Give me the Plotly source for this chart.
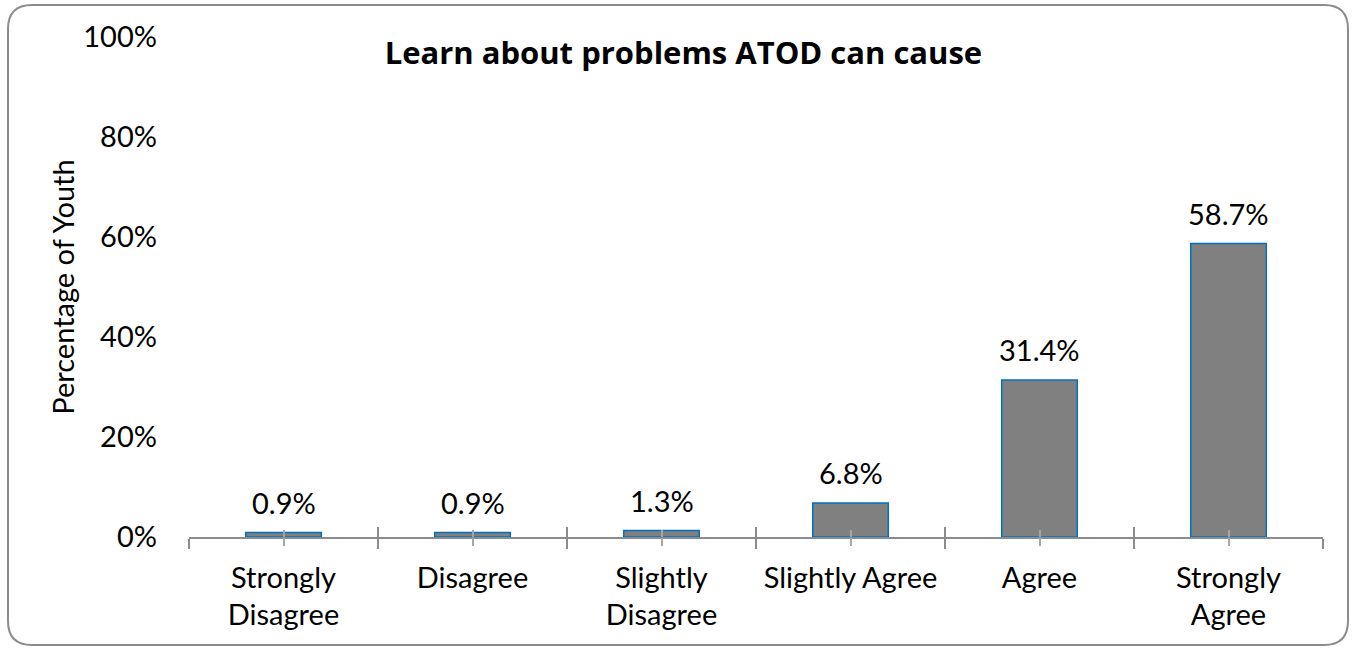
import plotly.graph_objects as go

CATEGORIES = ["Strongly<br>Disagree", "Disagree", "Slightly<br>Disagree",
              "Slightly Agree", "Agree", "Strongly<br>Agree"]
VALUES = [0.009, 0.009, 0.013, 0.068, 0.314, 0.587]
Y_TICKS = [0, 0.2, 0.4, 0.6, 0.8, 1.0]
Y_TICK_LABELS = ["0%", "20%", "40%", "60%", "80%", "100%"]

W, H = 1356, 650
L, R, T, B = 189, 33, 37, 113
FONT = "Lato, Carlito, Calibri, sans-serif"
FS = 29
AXIS_GRAY = "#8c8c8c"


def px_to_paper(x, y):
    return (x - L) / (W - L - R), (H - B - y) / (H - T - B)


def rounded_box(x0, y0, x1, y1, r):
    pts = [
        ("M", x0 + r, y0), ("L", x1 - r, y0), ("Q", x1, y0, x1, y0 + r),
        ("L", x1, y1 - r), ("Q", x1, y1, x1 - r, y1), ("L", x0 + r, y1),
        ("Q", x0, y1, x0, y1 - r), ("L", x0, y0 + r), ("Q", x0, y0, x0 + r, y0),
    ]
    parts = []
    for p in pts:
        cmd, coords = p[0], p[1:]
        xy = []
        for i in range(0, len(coords), 2):
            px, py = px_to_paper(coords[i], coords[i + 1])
            xy.append(f"{px:.5f},{py:.5f}")
        parts.append(cmd + " ".join(xy))
    return " ".join(parts) + " Z"


fig = go.Figure()
fig.add_trace(go.Bar(
    x=CATEGORIES, y=VALUES, width=0.4,
    marker=dict(color="#808080", line=dict(color="#0070C0", width=1.5)),
    showlegend=False, hoverinfo="skip",
))
# invisible carriers for the extra tick sets (cross ticks on the x axis)
for ax in ["x2", "x3", "x4"]:
    fig.add_trace(go.Scatter(
        x=CATEGORIES, y=[0] * len(CATEGORIES), xaxis=ax, mode="markers",
        marker=dict(opacity=0), showlegend=False, hoverinfo="skip",
    ))

# value labels above bars
for c, v in zip(CATEGORIES, VALUES):
    fig.add_annotation(x=c, y=v, text=f"{v:.1%}", showarrow=False,
                       yanchor="bottom", yshift=11,
                       font=dict(size=FS, family=FONT, color="#000000"))

extra = dict(overlaying="x", matches="x", anchor="y", showticklabels=False,
             showgrid=False, showline=False, tickwidth=1.5)

fig.update_layout(
    width=W, height=H,
    margin=dict(l=L, r=R, t=T, b=B),
    paper_bgcolor="white", plot_bgcolor="white",
    font=dict(family=FONT, size=FS, color="#000000"),
    title=dict(text="<b>Learn about problems ATOD can cause</b>",
               x=0.504, xref="container", xanchor="center",
               y=1 - 53 / H, yref="container", yanchor="middle",
               font=dict(size=31, family="Open Sans", color="#000000")),
    xaxis=dict(
        showline=True, linecolor=AXIS_GRAY, linewidth=1.5,
        ticks="outside", tickson="boundaries", ticklen=10, tickcolor=AXIS_GRAY,
        tickwidth=1.5, showgrid=False, tickfont=dict(size=FS),
        ticklabelstandoff=14, range=[-0.5, 5.5], fixedrange=True,
    ),
    xaxis2=dict(ticks="inside", tickson="boundaries", ticklen=10,
                tickcolor=AXIS_GRAY, **extra),
    xaxis3=dict(ticks="outside", ticklen=8, tickcolor="#a6a6a6", **extra),
    xaxis4=dict(ticks="inside", ticklen=7, tickcolor="#a6a6a6", **extra),
    yaxis=dict(
        range=[0, 1], tickvals=Y_TICKS, ticktext=Y_TICK_LABELS,
        showgrid=False, showline=False, zeroline=False, ticks="",
        tickfont=dict(size=FS), ticklabelstandoff=31, fixedrange=True,
        title=dict(text="Percentage of Youth", font=dict(size=FS), standoff=0),
    ),
    shapes=[dict(
        type="path", xref="paper", yref="paper",
        path=rounded_box(8, 5, 1348, 645, 24),
        line=dict(color="#8c8c8c", width=2), layer="below",
    )],
)

fig.write_html("out.html", config={"displayModeBar": False},
               post_script="document.body.style.margin='0';")
